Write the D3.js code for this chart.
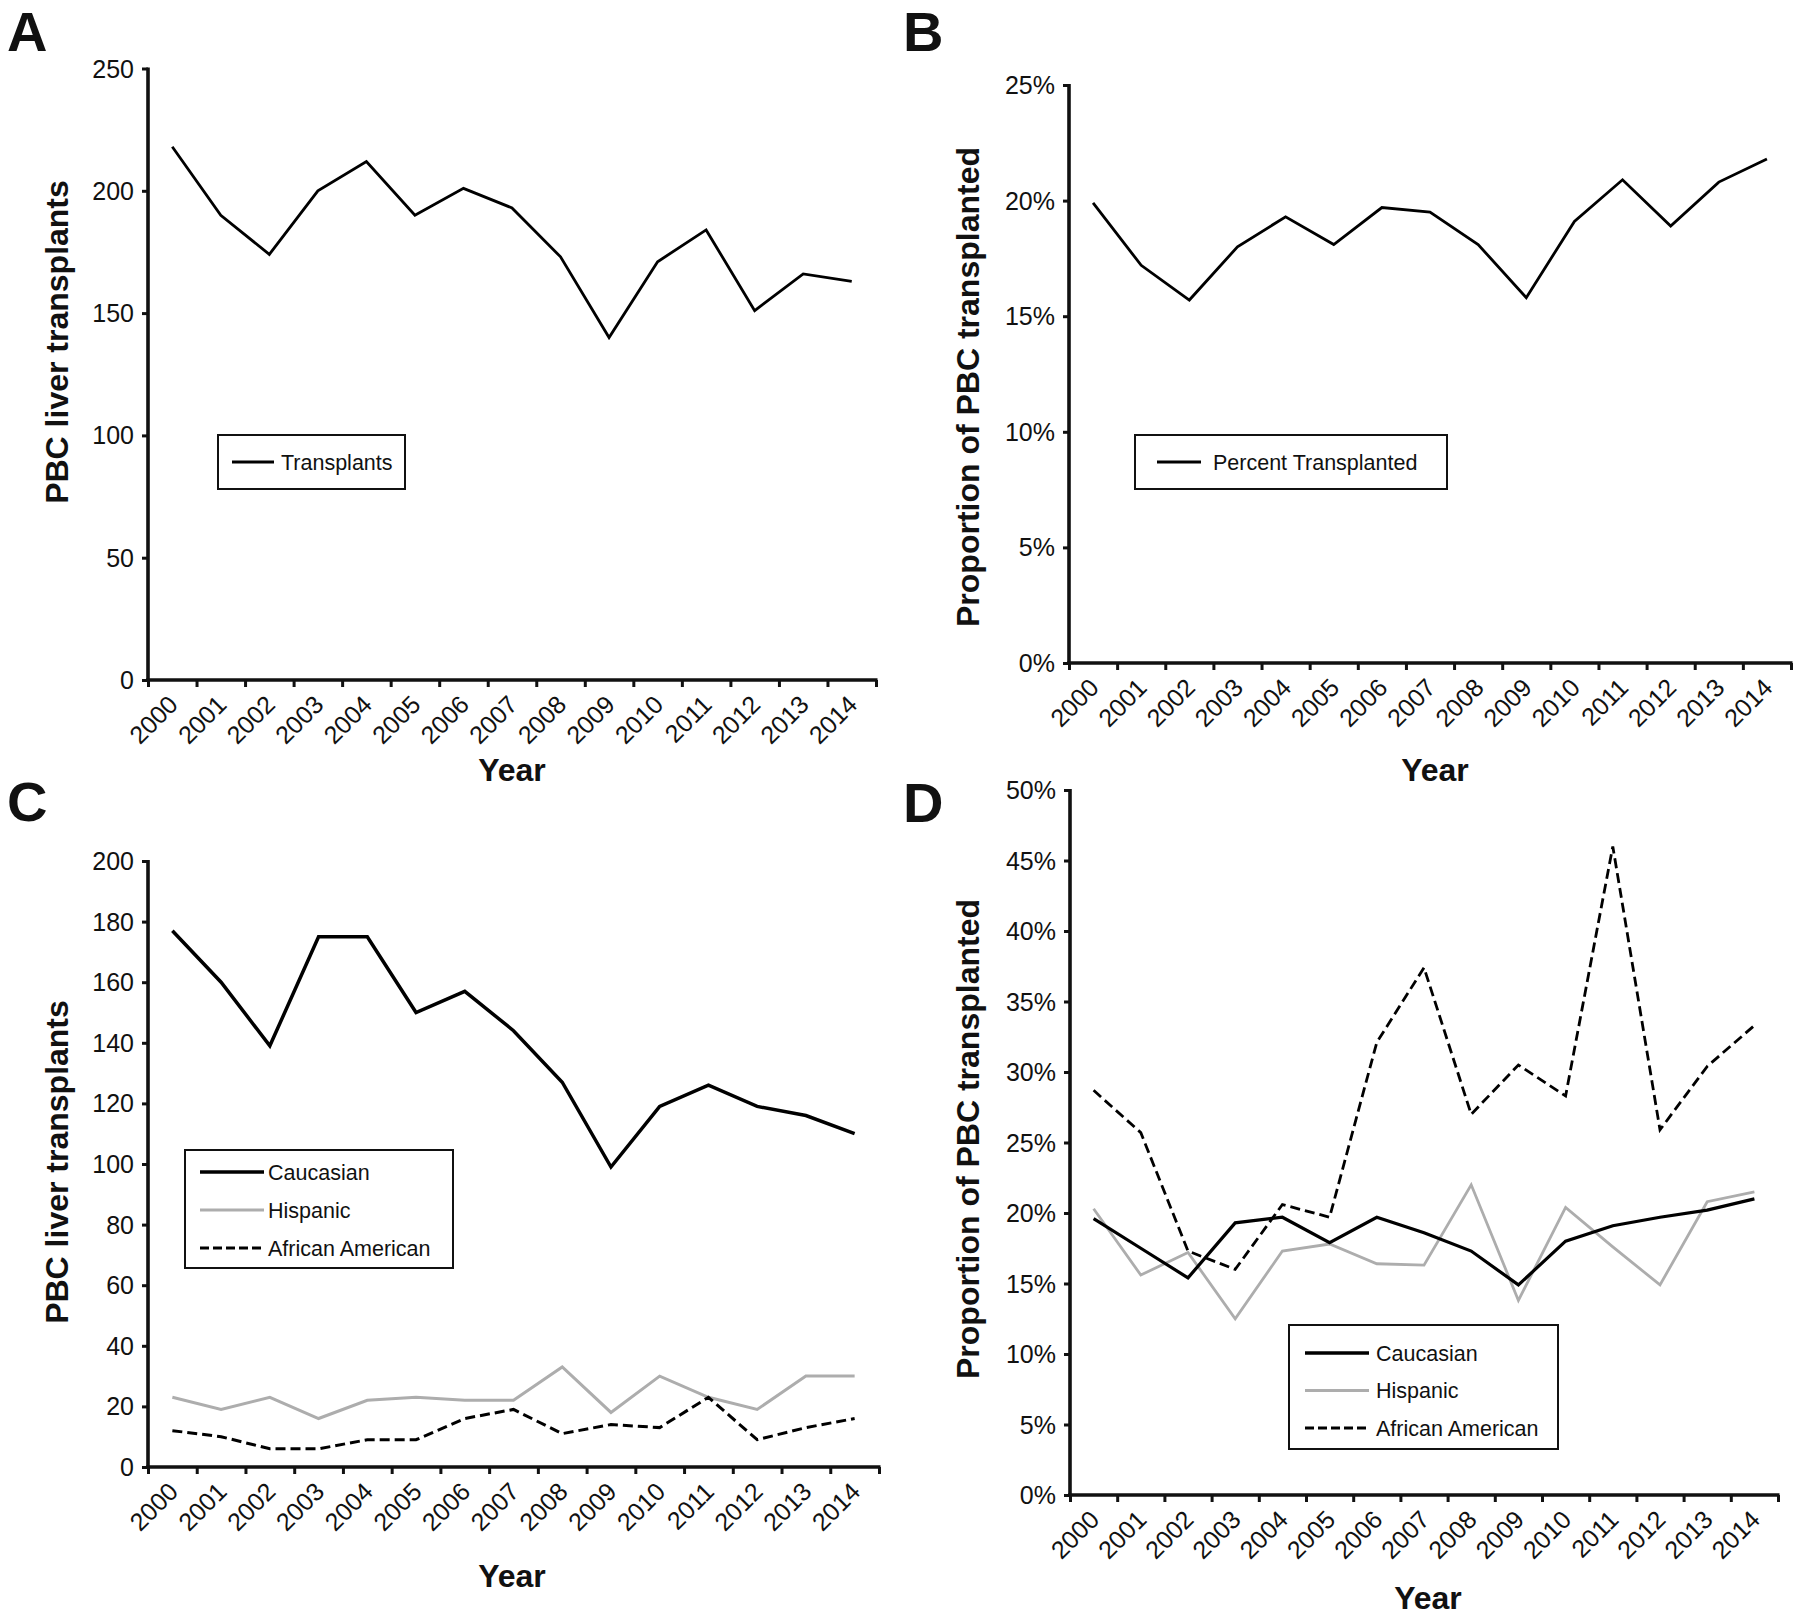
<!DOCTYPE html>
<html>
<head>
<meta charset="utf-8">
<script src="https://cdn.jsdelivr.net/npm/d3@7"></script>
<style>
  html, body { margin: 0; padding: 0; background: #fff; }
  svg text { font-family: "Liberation Sans", Arial, Helvetica, sans-serif; fill: #111; }
</style>
</head>
<body>
<svg id="chart" width="1800" height="1618"></svg>
<script>
// ---------------- DATA ----------------
const years = ["2000","2001","2002","2003","2004","2005","2006","2007","2008","2009","2010","2011","2012","2013","2014"];

// Panel A: number of PBC liver transplants
const transplants = [218,190,174,200,212,190,201,193,173,140,171,184,151,166,163];
// Panel B: percent of PBC patients transplanted
const percentTransplanted = [19.9,17.2,15.7,18.0,19.3,18.1,19.7,19.5,18.1,15.8,19.1,20.9,18.9,20.8,21.8];
// Panel C: transplants by ethnicity
const caucasianCount = [177,160,139,175,175,150,157,144,127,99,119,126,119,116,110];
const hispanicCount  = [23,19,23,16,22,23,22,22,33,18,30,23,19,30,30];
const africanAmericanCount = [12,10,6,6,9,9,16,19,11,14,13,23,9,13,16];
// Panel D: proportion transplanted by ethnicity
const caucasianPct = [19.6,17.5,15.4,19.3,19.7,17.9,19.7,18.6,17.3,14.9,18.0,19.1,19.7,20.2,21.0];
const hispanicPct  = [20.3,15.6,17.2,12.5,17.3,17.8,16.4,16.3,22.0,13.8,20.4,17.6,14.9,20.8,21.5];
const africanAmericanPct = [28.7,25.7,17.3,16.0,20.6,19.7,32.1,37.4,27.0,30.5,28.3,46.0,25.9,30.4,33.3];

// tick values
const ticksA = [0,50,100,150,200,250];
const ticksB = [0,5,10,15,20,25];
const ticksC = [0,20,40,60,80,100,120,140,160,180,200];
const ticksD = [0,5,10,15,20,25,30,35,40,45,50];

const seriesLabels = ["Caucasian","Hispanic","African American"];

// ---------------- STYLES ----------------
const GRAY = "#adadad";
const styles = {
  solid:  {stroke:"#000", dash:null},
  gray:   {stroke:GRAY, dash:null},
  dashed: {stroke:"#000", dash:"10,5"}
};

const svg = d3.select("#chart");

function panel(cfg) {
  const g = svg.append("g");
  const x = d3.scaleBand().domain(years).range([cfg.x0, cfg.x1]).paddingInner(0).paddingOuter(0);
  const xl = d3.scaleLinear().domain([0, years.length]).range([cfg.x0, cfg.x1]);
  const y = d3.scaleLinear().domain([0, cfg.ymax]).range([cfg.yb, cfg.yt]);

  // y axis
  const yAxis = d3.axisLeft(y).tickValues(cfg.ticks).tickSize(6).tickSizeOuter(0).tickPadding(8)
    .tickFormat(cfg.fmt);
  const ya = g.append("g").attr("transform", `translate(${cfg.x0},0)`).call(yAxis);
  ya.select(".domain").attr("stroke","#111").attr("stroke-width",3.6).attr("d", `M0,${cfg.yb + 1.8}V${cfg.yt - 1}`);
  ya.selectAll(".tick line").attr("stroke","#111").attr("stroke-width",3).attr("x1",0);
  ya.selectAll(".tick text").attr("font-size",25).attr("dy","0.34em").attr("fill","#111");

  // x axis boundary ticks (linear, no labels)
  const xAxisTicks = d3.axisBottom(xl).ticks(years.length).tickSize(7).tickSizeOuter(0).tickFormat("");
  const xa = g.append("g").attr("transform", `translate(0,${cfg.yb})`).call(xAxisTicks);
  xa.select(".domain").attr("stroke","#111").attr("stroke-width",3.6).attr("d", `M${cfg.x0 - 1.8},0H${cfg.x1 + 1.5}`);
  xa.selectAll(".tick line").attr("stroke","#111").attr("stroke-width",3);

  // x labels at band centers (band axis)
  const xAxisLabels = d3.axisBottom(x).tickSize(0).tickSizeOuter(0);
  const xb = g.append("g").attr("transform", `translate(0,${cfg.yb})`).call(xAxisLabels);
  xb.select(".domain").remove();
  xb.selectAll(".tick text")
    .attr("font-size",25)
    .attr("fill","#111")
    .attr("text-anchor","end")
    .attr("y",0).attr("dy","0.35em")
    .attr("transform","translate(1,20) rotate(-45)");

  // axis titles
  g.append("text").attr("x", cfg.xtitleX).attr("y", cfg.xtitleY)
    .attr("text-anchor","middle").attr("font-size",32).attr("font-weight","bold").text("Year");
  g.append("text")
    .attr("transform", `translate(${cfg.ytitleX},${cfg.ytitleY}) rotate(-90)`)
    .attr("text-anchor","middle").attr("dy","0.35em")
    .attr("font-size",32).attr("font-weight","bold").text(cfg.ytitle);

  // panel letter
  g.append("text").attr("x", cfg.letterX).attr("y", cfg.letterY)
    .attr("font-size",56).attr("font-weight","bold").attr("fill","#000").text(cfg.letter);

  // series
  const line = d3.line().x((d,i) => x(years[i]) + x.bandwidth()/2).y(d => y(d));
  cfg.series.forEach(s => {
    const st = styles[s.style];
    g.append("path").datum(s.values)
      .attr("fill","none").attr("stroke",st.stroke).attr("stroke-width",s.width)
      .attr("stroke-linejoin","miter").attr("stroke-dasharray",st.dash).attr("d",line);
  });

  // legend
  const L = cfg.legend;
  const lg = g.append("g");
  lg.append("rect").attr("x",L.x).attr("y",L.y).attr("width",L.w).attr("height",L.h)
    .attr("fill","#fff").attr("stroke","#111").attr("stroke-width",2);
  L.items.forEach((it, i) => {
    const st = styles[it.style];
    const ry = L.rowY + i * L.rowGap;
    lg.append("line").attr("x1",L.lx1).attr("x2",L.lx2).attr("y1",ry).attr("y2",ry)
      .attr("stroke",st.stroke).attr("stroke-width",it.width)
      .attr("stroke-dasharray", st.dash ? "9,4" : null);
    lg.append("text").attr("x",L.tx).attr("y",ry).attr("dy","0.35em")
      .attr("font-size",21.5).attr("fill","#111").text(it.label);
  });
}

// ---------------- PANELS ----------------
panel({
  letter:"A", letterX:7, letterY:51,
  x0:148, x1:876, yt:68.5, yb:680, ymax:250, ticks:ticksA, fmt:d3.format("d"),
  xtitleX:512, xtitleY:781, ytitleX:57, ytitleY:342, ytitle:"PBC liver transplants",
  series:[{values:transplants, style:"solid", width:2.8}],
  legend:{x:218, y:435, w:187, h:54, rowY:462, rowGap:0, lx1:232, lx2:274, tx:281,
          items:[{label:"Transplants", style:"solid", width:2.8}]}
});

panel({
  letter:"B", letterX:903, letterY:51,
  x0:1069, x1:1791, yt:85, yb:663, ymax:25, ticks:ticksB, fmt:d => d + "%",
  xtitleX:1435, xtitleY:781, ytitleX:968, ytitleY:387, ytitle:"Proportion of PBC transplanted",
  series:[{values:percentTransplanted, style:"solid", width:2.8}],
  legend:{x:1135, y:435, w:312, h:54, rowY:462, rowGap:0, lx1:1157, lx2:1201, tx:1213,
          items:[{label:"Percent Transplanted", style:"solid", width:2.8}]}
});

panel({
  letter:"C", letterX:7, letterY:821,
  x0:148, x1:879, yt:861, yb:1467, ymax:200, ticks:ticksC, fmt:d3.format("d"),
  xtitleX:512, xtitleY:1587, ytitleX:57, ytitleY:1162, ytitle:"PBC liver transplants",
  series:[
    {values:hispanicCount, style:"gray", width:3},
    {values:africanAmericanCount, style:"dashed", width:3},
    {values:caucasianCount, style:"solid", width:3.5}
  ],
  legend:{x:185, y:1150, w:268, h:118, rowY:1172, rowGap:38, lx1:200, lx2:264, tx:268,
          items:[
            {label:seriesLabels[0], style:"solid", width:3.5},
            {label:seriesLabels[1], style:"gray", width:3},
            {label:seriesLabels[2], style:"dashed", width:3}
          ]}
});

panel({
  letter:"D", letterX:903, letterY:822,
  x0:1070, x1:1778, yt:790, yb:1495, ymax:50, ticks:ticksD, fmt:d => d + "%",
  xtitleX:1428, xtitleY:1609, ytitleX:968, ytitleY:1139, ytitle:"Proportion of PBC transplanted",
  series:[
    {values:hispanicPct, style:"gray", width:2.8},
    {values:africanAmericanPct, style:"dashed", width:2.8},
    {values:caucasianPct, style:"solid", width:3.2}
  ],
  legend:{x:1289, y:1325, w:269, h:124, rowY:1353, rowGap:37.5, lx1:1305, lx2:1369, tx:1376,
          items:[
            {label:seriesLabels[0], style:"solid", width:3.5},
            {label:seriesLabels[1], style:"gray", width:3},
            {label:seriesLabels[2], style:"dashed", width:3}
          ]}
});
</script>
</body>
</html>
